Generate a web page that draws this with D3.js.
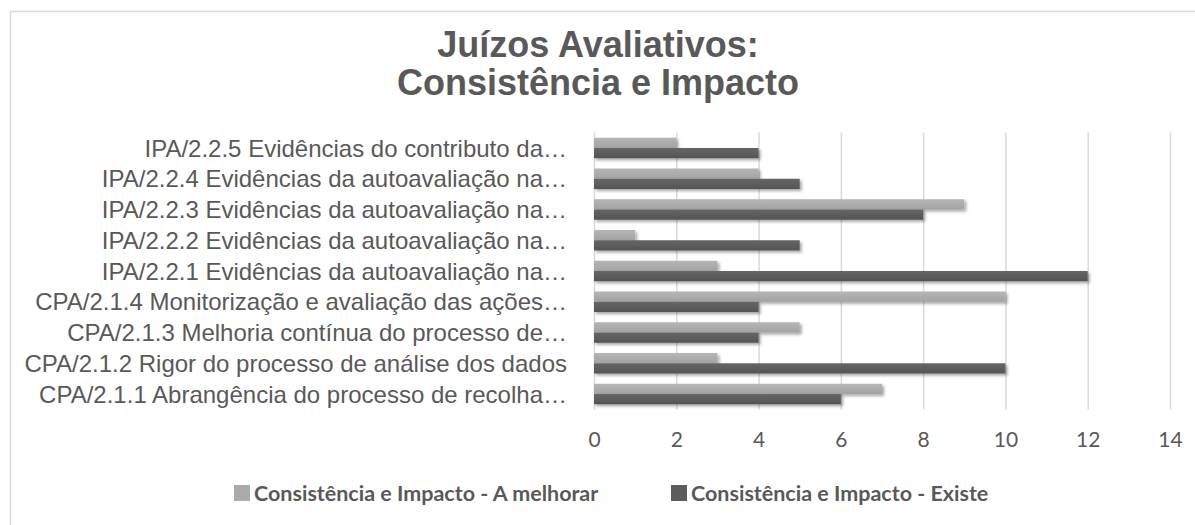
<!DOCTYPE html>
<html>
<head>
<meta charset="utf-8">
<script src="https://cdn.jsdelivr.net/npm/d3@7"></script>
<style>
  body { margin: 0; background: #fff; }
  #chart { width: 1195px; height: 525px; }
  .cat { font-family: "Liberation Sans", Arial, sans-serif; fill: #595959; }
  .tick text { font-family: Lato, "Open Sans", sans-serif; fill: #595959; }
  .legend text { font-family: Lato, "Open Sans", sans-serif; font-weight: bold; fill: #595959; }
</style>
</head>
<body>
<div id="chart"></div>
<script>
"use strict"

// categories, bottom to top as in the picture
let categories = [
	"CPA/2.1.1 Abrangência do processo de recolha…",
	"CPA/2.1.2 Rigor do processo de análise dos dados",
	"CPA/2.1.3 Melhoria contínua do processo de…",
	"CPA/2.1.4 Monitorização e avaliação das ações…",
	"IPA/2.2.1 Evidências da autoavaliação na…",
	"IPA/2.2.2 Evidências da autoavaliação na…",
	"IPA/2.2.3 Evidências da autoavaliação na…",
	"IPA/2.2.4 Evidências da autoavaliação na…",
	"IPA/2.2.5 Evidências do contributo da…"
];
let seriesNames = ["Consistência e Impacto - A melhorar", "Consistência e Impacto - Existe"];
let aMelhorar = [7, 3, 5, 10, 3, 1, 9, 4, 2];
let existe = [6, 10, 4, 4, 12, 5, 8, 5, 4];
let xTicks = [0, 2, 4, 6, 8, 10, 12, 14];
let titleLines = ["Juízos Avaliativos:", "Consistência e Impacto"];

let W = 1195, H = 525;
let plot = { left: 594, right: 1170, top: 132.6, bottom: 409.4 };

let svg = d3.select("#chart").append("svg")
	.attr("width", W)
	.attr("height", H);

let defs = svg.append("defs");
let shadow = defs.append("filter").attr("id", "shadow")
	.attr("x", "-5%").attr("y", "-30%").attr("width", "115%").attr("height", "180%");
shadow.append("feDropShadow")
	.attr("dx", 2).attr("dy", 2).attr("stdDeviation", 1.6)
	.attr("flood-color", "#000").attr("flood-opacity", 0.35);

function gradient(id, c1, c2) {
	let g = defs.append("linearGradient").attr("id", id)
		.attr("x1", 0).attr("y1", 0).attr("x2", 0).attr("y2", 1);
	g.append("stop").attr("offset", "0%").attr("stop-color", c1);
	g.append("stop").attr("offset", "100%").attr("stop-color", c2);
}
gradient("gLight", "#b6b6b6", "#a2a2a2");
gradient("gDark", "#666666", "#545454");
let fills = ["url(#gLight)", "url(#gDark)"];
let swatch = ["#aaaaaa", "#5c5c5c"];

// chart border (cropped at right and bottom)
svg.append("path")
	.attr("d", `M10.5,${H + 5} V11.5 H${W + 5}`)
	.attr("fill", "none")
	.attr("stroke", "#d9d9d9")
	.attr("stroke-width", 1.5);

// title
svg.append("g").selectAll("text")
	.data(titleLines)
	.enter().append("text")
		.attr("x", 598)
		.attr("y", (d, i) => 57 + i * 38)
		.attr("text-anchor", "middle")
		.attr("font-family", "'Liberation Sans', Arial, sans-serif")
		.attr("font-weight", "bold")
		.attr("font-size", 36)
		.attr("fill", "#595959")
		.text(d => d);

let x = d3.scaleLinear().domain([0, 14]).range([plot.left, plot.right]);
let y = d3.scaleBand()
	.domain(d3.range(categories.length))
	.range([plot.bottom, plot.top])
	.paddingInner(1 / 3)
	.paddingOuter(1 / 6);
let ySub = d3.scaleBand().domain([0, 1]).range([0, y.bandwidth()]);

// gridlines + tick labels
let axis = svg.append("g")
	.attr("transform", `translate(0,${plot.bottom})`)
	.call(d3.axisBottom(x).tickValues(xTicks).tickSize(-(plot.bottom - plot.top)).tickPadding(23));
axis.select(".domain").remove();
axis.selectAll(".tick line").attr("stroke", "#d9d9d9").attr("stroke-width", 1.5);
axis.selectAll(".tick text").attr("font-size", 21).attr("dy", "0.71em");

// bars
let rows = categories.map((c, i) => ({ i, vals: [aMelhorar[i], existe[i]] }));
let groups = svg.append("g").selectAll("g")
	.data(rows)
	.enter().append("g")
		.attr("transform", d => `translate(0,${y(d.i)})`);

groups.selectAll("rect")
	.data(d => d.vals.map((v, k) => ({ k, v })))
	.enter().append("rect")
		.attr("x", x(0))
		.attr("y", d => ySub(d.k))
		.attr("width", d => x(d.v) - x(0))
		.attr("height", ySub.bandwidth())
		.attr("fill", d => fills[d.k])
		.attr("filter", "url(#shadow)");

// category labels
svg.append("g").selectAll("text")
	.data(categories)
	.enter().append("text")
		.attr("class", "cat")
		.attr("x", 567)
		.attr("y", (d, i) => y(i) + y.bandwidth() / 2)
		.attr("dy", "0.36em")
		.attr("text-anchor", "end")
		.attr("font-size", 24)
		.text(d => d);

// legend
let legendX = [234, 671];
let legend = svg.append("g").attr("class", "legend").selectAll("g")
	.data(seriesNames)
	.enter().append("g")
		.attr("transform", (d, i) => `translate(${legendX[i]},493)`);
legend.append("rect")
	.attr("x", 0).attr("y", -8)
	.attr("width", 16).attr("height", 16)
	.attr("fill", (d, i) => swatch[i]);
legend.append("text")
	.attr("x", 20)
	.attr("dy", "0.36em")
	.attr("font-size", 21.5)
	.text(d => d);
</script>
</body>
</html>
